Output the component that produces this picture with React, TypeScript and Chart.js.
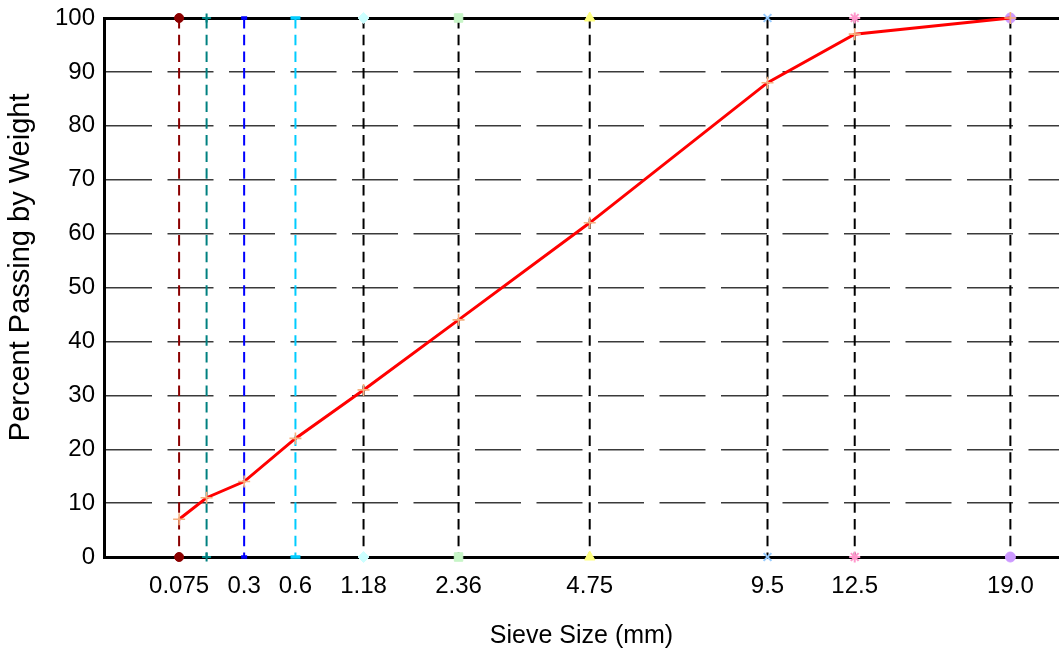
import React, { useEffect, useRef } from "react";
import { Chart, registerables } from "chart.js";

Chart.register(...registerables);

// ---- data ----
const sieveSizes = [0.075, 0.15, 0.3, 0.6, 1.18, 2.36, 4.75, 9.5, 12.5, 19.0];
const sieveLabels = ["0.075", "", "0.3", "0.6", "1.18", "2.36", "4.75", "9.5", "12.5", "19.0"];
const percentPassing = [7, 11, 14, 22, 31, 44, 62, 88, 97, 100];
const powerExponent = 0.45;
const xMax = 3.964;
const yMin = 0;
const yMax = 100;
const yStep = 10;

const sieveLineColors = [
  "#8B0000", "#008080", "#0000FF", "#00CCFF", "#000000",
  "#000000", "#000000", "#000000", "#000000", "#000000",
];
const sieveMarkerColors = [
  "#8B0000", "#008080", "#0000FF", "#00CCFF", "#CCFFFF",
  "#C6F5C6", "#FFFF80", "#99CCFF", "#FF99CC", "#CC99FF",
];
const sieveMarkerStyles = [
  "circle", "cross", "line", "line", "rectRot",
  "rect", "triangle", "crossRot", "star", "circle",
];
const sieveMarkerRadii = [4.5, 4.5, 3, 5, 5.5, 6, 6, 5.5, 5.5, 5];
const sieveMarkerWidths = [1, 2, 3.5, 3.5, 1, 1, 1, 2, 2, 1];

const FONT = "'Liberation Sans', Arial, Helvetica, sans-serif";

const pw = (s: number) => Math.pow(s, powerExponent);

const zeroPadding = (scale: any) => {
  scale.paddingTop = 0;
  scale.paddingBottom = 0;
  scale.paddingLeft = 0;
  scale.paddingRight = 0;
};

export default function App() {
  const canvasRef = useRef<HTMLCanvasElement | null>(null);

  useEffect(() => {
    const canvas = canvasRef.current;
    if (!canvas) return;

    const gradationDataset: any = {
      label: "Gradation",
      data: sieveSizes.map((s, i) => ({ x: pw(s), y: percentPassing[i] })),
      showLine: true,
      borderColor: "#FF0000",
      borderWidth: 3,
      pointStyle: "cross",
      pointRadius: 6,
      pointBorderColor: "#F5B07F",
      pointBackgroundColor: "#F5B07F",
      pointBorderWidth: 1.6,
      clip: false,
    };

    const sieveDatasets: any[] = sieveSizes.map((s, i) => ({
      label: "Sieve " + sieveLabels[i],
      data: [
        { x: pw(s), y: yMax },
        { x: pw(s), y: yMin },
      ],
      showLine: true,
      borderColor: sieveLineColors[i],
      borderWidth: 2,
      borderDash: [10.5, 6.2],
      pointStyle: sieveMarkerStyles[i],
      pointRadius: sieveMarkerRadii[i],
      pointBorderWidth: sieveMarkerWidths[i],
      pointBorderColor: sieveMarkerColors[i],
      pointBackgroundColor: sieveMarkerColors[i],
      clip: false,
    }));

    const chart = new Chart(canvas, {
      type: "scatter",
      data: { datasets: [gradationDataset, ...sieveDatasets] },
      options: {
        animation: false,
        responsive: false,
        devicePixelRatio: 1,
        layout: { autoPadding: false, padding: { top: 18, left: 0, right: 0, bottom: 0 } },
        plugins: {
          legend: { display: false },
          tooltip: { enabled: false },
          title: { display: false },
        },
        scales: {
          x: {
            type: "linear",
            position: "bottom",
            min: 0,
            max: xMax,
            afterBuildTicks: (scale: any) => {
              scale.ticks = sieveSizes.map((s) => ({ value: pw(s) }));
            },
            afterFit: (scale: any) => {
              scale.height = 97;
              zeroPadding(scale);
            },
            ticks: {
              autoSkip: false,
              maxRotation: 0,
              minRotation: 0,
              padding: 15,
              color: "#000",
              font: { family: FONT, size: 24 },
              callback: (_v: any, idx: number) => sieveLabels[idx],
            },
            grid: { display: false, drawTicks: false },
            border: { display: true, width: 3, color: "#000" },
            title: {
              display: true,
              text: "Sieve Size (mm)",
              color: "#000",
              font: { family: FONT, size: 25 },
              padding: { top: 0, bottom: 3 },
            },
          },
          x2: {
            type: "linear",
            position: "top",
            min: 0,
            max: xMax,
            afterFit: (scale: any) => {
              scale.height = 0;
              zeroPadding(scale);
            },
            ticks: { display: false },
            grid: { display: false, drawTicks: false },
            border: { display: true, width: 3, color: "#000" },
          },
          y: {
            type: "linear",
            min: yMin,
            max: yMax,
            afterFit: (scale: any) => {
              scale.width = 104;
              zeroPadding(scale);
            },
            ticks: {
              stepSize: yStep,
              padding: 9,
              color: "#000",
              font: { family: FONT, size: 24 },
            },
            grid: {
              color: "#3a3a3a",
              lineWidth: 1.4,
              drawTicks: false,
            },
            border: {
              display: true,
              width: 3,
              color: "#000",
              dash: [46, 15.5],
            },
            title: {
              display: true,
              text: "     Percent Passing by Weight",
              color: "#000",
              font: { family: FONT, size: 29 },
              padding: { top: 4, bottom: 0 },
            },
          },
        },
      },
    } as any);

    return () => chart.destroy();
  }, []);

  return (
    <div style={{ position: "absolute", left: 0, top: 0, width: 1059, height: 654, background: "#fff" }}>
      <canvas ref={canvasRef} width={1059} height={654} style={{ display: "block", width: 1059, height: 654 }} />
    </div>
  );
}
